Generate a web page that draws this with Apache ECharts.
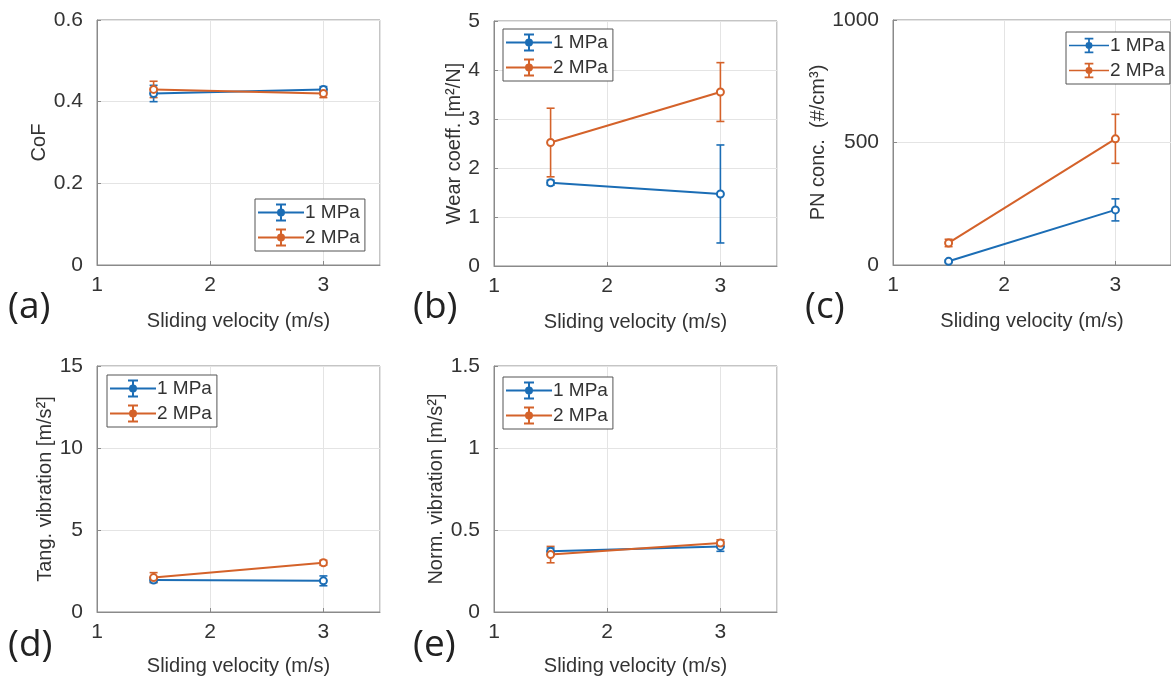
<!DOCTYPE html>
<html>
<head>
<meta charset="utf-8">
<title>Sliding velocity panels</title>
<script src="https://cdn.jsdelivr.net/npm/echarts@6.0.0/dist/echarts.min.js"></script>
<style>
  html, body { margin: 0; padding: 0; background: #fff; }
  #main { width: 1171px; height: 682px; }
</style>
</head>
<body>
<div id="main"></div>
<script>
var velocity = [1.5, 3]
var seriesNames = ['1 MPa', '2 MPa']

var cof1 = [0.42, 0.43], cof1Err = [0.02, 0.007]
var cof2 = [0.43, 0.42], cof2Err = [0.02, 0.01]
var wear1 = [1.7, 1.47], wear1Err = [0.05, 1.0]
var wear2 = [2.52, 3.55], wear2Err = [0.7, 0.6]
var pn1 = [15, 225], pn1Err = [5, 45]
var pn2 = [90, 515], pn2Err = [15, 100]
var tang1 = [1.95, 1.9], tang1Err = [0.15, 0.3]
var tang2 = [2.1, 3.0], tang2Err = [0.3, 0.15]
var norm1 = [0.37, 0.4], norm1Err = [0.02, 0.03]
var norm2 = [0.35, 0.42], norm2Err = [0.05, 0.02]

var xTicks = { min: 1, max: 3.5, interval: 1 }
var yTicks = [
    { min: 0, max: 0.6, interval: 0.2 },
    { min: 0, max: 5, interval: 1 },
    { min: 0, max: 1000, interval: 500 },
    { min: 0, max: 15, interval: 5 },
    { min: 0, max: 1.5, interval: 0.5 }
]

var BLUE = '#1b6db5'
var ORANGE = '#d4622a'
var FONT = 'Liberation Sans'

var panels = [
    { label: '(a)', yName: 'CoF', gap: 44, grid: [97, 20], lbl: [8, 314], s1: [cof1, cof1Err], s2: [cof2, cof2Err], legend: [255, 199] },
    { label: '(b)', yName: 'Wear coeff. [m²/N]', gap: 26, grid: [494, 21], lbl: [413, 314], s1: [wear1, wear1Err], s2: [wear2, wear2Err], legend: [503, 29] },
    { label: '(c)', yName: 'PN conc.  (#/cm³)', gap: 62, grid: [893, 20], lbl: [805, 314], s1: [pn1, pn1Err], s2: [pn2, pn2Err], legend: [1066, 32] },
    { label: '(d)', yName: 'Tang. vibration [m/s²]', gap: 38, grid: [97, 366], lbl: [8, 652], s1: [tang1, tang1Err], s2: [tang2, tang2Err], legend: [107, 375] },
    { label: '(e)', yName: 'Norm. vibration [m/s²]', gap: 42, grid: [494, 366], lbl: [413, 652], s1: [norm1, norm1Err], s2: [norm2, norm2Err], legend: [503, 377] }
]

function renderErr(params, api) {
    var x = api.value(0)
    var lo = api.coord([x, api.value(1)])
    var hi = api.coord([x, api.value(2)])
    var w = 4
    var style = { stroke: api.visual('color'), lineWidth: 1.6 }
    return {
        type: 'group',
        children: [
            { type: 'line', shape: { x1: lo[0], y1: lo[1], x2: hi[0], y2: hi[1] }, style: style },
            { type: 'line', shape: { x1: lo[0] - w, y1: lo[1], x2: lo[0] + w, y2: lo[1] }, style: style },
            { type: 'line', shape: { x1: hi[0] - w, y1: hi[1], x2: hi[0] + w, y2: hi[1] }, style: style }
        ]
    }
}

function pts(vals) {
    return velocity.map(function (v, i) { return [v, vals[i]] })
}

function errPts(vals, err) {
    return velocity.map(function (v, i) { return [v, vals[i] - err[i], vals[i] + err[i]] })
}

// line + error bar glyph like the matlab legend
var legendIcon = 'path://M0,9h46v2h-46z M22,1h2v18h-2z M18,1h10v2h-10z M18,17h10v2h-10z M19,10a4,4 0 1,1 8,0a4,4 0 1,1 -8,0z'

var grids = [], xAxes = [], yAxes = [], series = [], legends = [], graphics = []

panels.forEach(function (p, i) {
    var row2 = i >= 3
    grids.push({
        left: p.grid[0], top: p.grid[1], width: 283, height: row2 ? 246 : 245,
        show: true, borderColor: '#8a8a8a', borderWidth: 1
    })
    xAxes.push({
        gridIndex: i, type: 'value', min: xTicks.min, max: xTicks.max, interval: xTicks.interval,
        name: 'Sliding velocity (m/s)', nameLocation: 'middle', nameGap: row2 ? 44 : 46,
        nameTextStyle: { fontSize: 20, color: '#333', fontFamily: FONT },
        axisLine: { show: true, lineStyle: { color: '#8a8a8a' } },
        axisTick: { inside: true, length: 4, lineStyle: { color: '#8a8a8a' } },
        axisLabel: { fontSize: 21, color: '#333', fontFamily: FONT, margin: 10, showMaxLabel: false },
        splitLine: { show: true, lineStyle: { color: '#e4e4e4' } }
    })
    yAxes.push({
        gridIndex: i, type: 'value', min: yTicks[i].min, max: yTicks[i].max, interval: yTicks[i].interval,
        name: p.yName, nameLocation: 'middle', nameGap: p.gap,
        nameTextStyle: { fontSize: 20, color: '#333', fontFamily: FONT },
        axisLine: { show: true, lineStyle: { color: '#8a8a8a' } },
        axisTick: { inside: true, length: 4, lineStyle: { color: '#8a8a8a' } },
        axisLabel: {
            fontSize: 21, color: '#333', fontFamily: FONT, margin: 14,
            formatter: function (v) { return String(v) }
        },
        splitLine: { show: true, lineStyle: { color: '#e4e4e4' } }
    })
    ;[[p.s1, BLUE, seriesNames[0]], [p.s2, ORANGE, seriesNames[1]]].forEach(function (s) {
        series.push({
            name: s[2], type: 'line', xAxisIndex: i, yAxisIndex: i,
            data: pts(s[0][0]), symbol: 'emptyCircle', symbolSize: 7,
            lineStyle: { color: s[1], width: 2 },
            itemStyle: { color: s[1], borderWidth: 1.8 },
            animation: false
        })
        series.push({
            name: s[2], type: 'custom', xAxisIndex: i, yAxisIndex: i,
            data: errPts(s[0][0], s[0][1]), renderItem: renderErr,
            itemStyle: { color: s[1] }, animation: false
        })
    })
    legends.push({
        left: p.legend[0], top: p.legend[1], orient: 'vertical',
        data: [
            { name: seriesNames[0], itemStyle: { color: BLUE, borderWidth: 0 } },
            { name: seriesNames[1], itemStyle: { color: ORANGE, borderWidth: 0 } }
        ],
        icon: legendIcon, itemWidth: i == 2 ? 40 : 46, itemHeight: 20, itemGap: 6,
        selectedMode: false,
        backgroundColor: '#fff', borderColor: '#555', borderWidth: 1, borderRadius: 0,
        padding: [4, 5, 4, 3],
        textStyle: { fontSize: 19, color: '#333', fontFamily: FONT, padding: [0, 0, 0, -4] }
    })
    graphics.push({
        type: 'text', left: p.lbl[0], top: p.lbl[1] - 25,
        style: { text: p.label, font: '37px "Open Sans"', fill: '#222' }
    })
})

var chart = echarts.init(document.getElementById('main'))
chart.setOption({
    backgroundColor: '#fff',
    animation: false,
    grid: grids,
    xAxis: xAxes,
    yAxis: yAxes,
    legend: legends,
    series: series,
    graphic: graphics
})
</script>
</body>
</html>
